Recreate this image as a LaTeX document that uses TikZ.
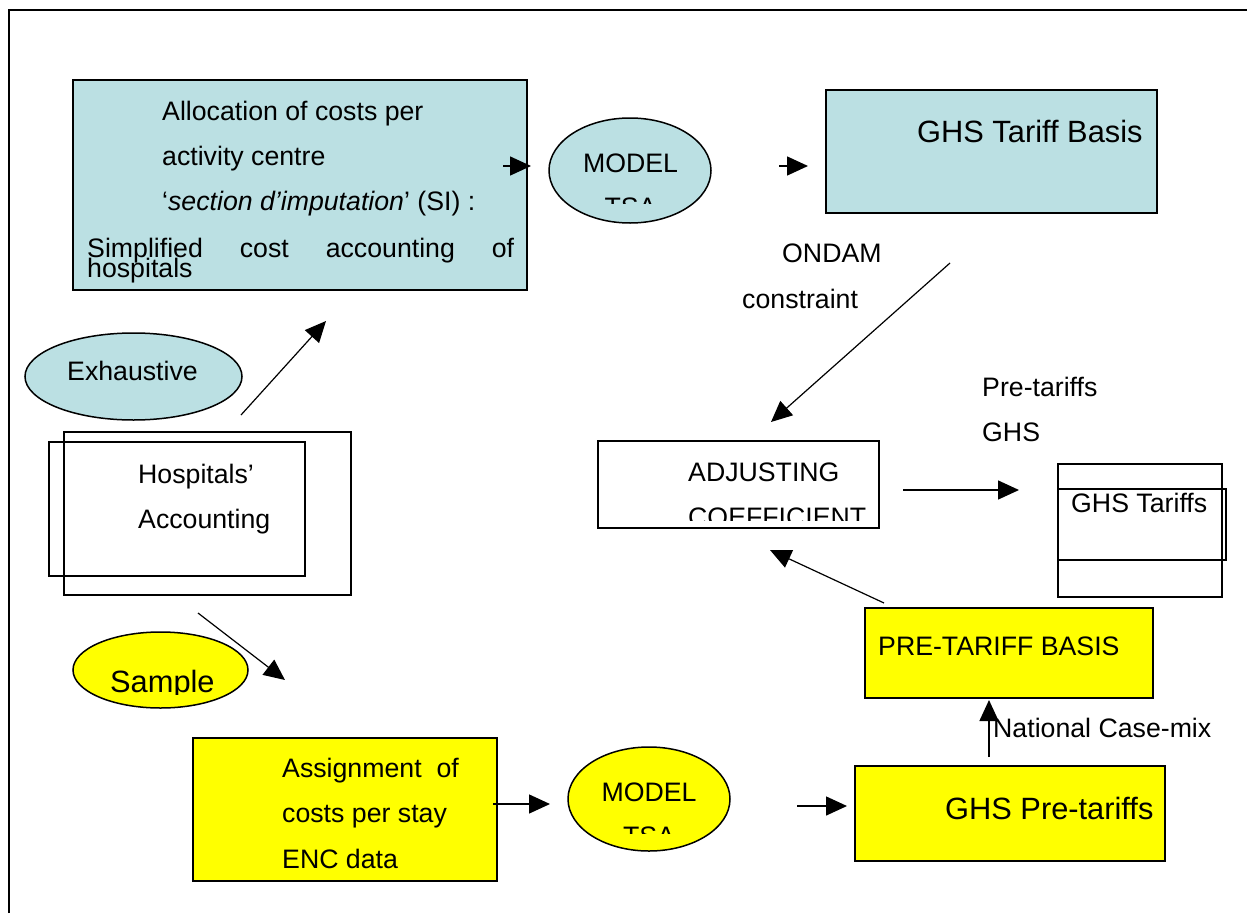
\documentclass[tikz,border=0pt]{standalone}
\usepackage{fontspec}
\setmainfont{Liberation Sans}
\usetikzlibrary{arrows.meta,shapes.geometric}
\definecolor{paleblue}{RGB}{187,224,227}
\definecolor{brightyellow}{RGB}{255,255,0}
\begin{document}
\begin{tikzpicture}[x=1pt,y=-1pt,
  boxshape/.style={draw, line width=1.5pt, inner sep=0pt, outer sep=0pt, anchor=north west},
  ellshape/.style={draw, ellipse, line width=1.5pt, inner sep=0pt, outer sep=0pt},
  txt/.style={anchor=base west, inner sep=0pt, font=\fontsize{26.7}{32}\selectfont},
  bigtxt/.style={anchor=base west, inner sep=0pt, font=\fontsize{30.8}{37}\selectfont},
  arr/.style={-{Triangle[length=21pt,width=19pt]}, line width=1.5pt},
  thinarr/.style={-{Triangle[length=21pt,width=19pt]}, line width=1.2pt}]
\useasboundingbox (0,0) rectangle (1247,913);
\draw[line width=2pt] (9,913) -- (9,10) -- (1247,10);

% ---- shapes ----
\node[boxshape, fill=paleblue, minimum width=454pt, minimum height=210pt] (alloc) at (73,80) {};
\node[ellshape, fill=paleblue, minimum width=162pt, minimum height=105pt] (model1) at (630,170.5) {};
\node[boxshape, fill=paleblue, minimum width=331pt, minimum height=123pt] (basis) at (826,90) {};
\node[ellshape, fill=paleblue, minimum width=217pt, minimum height=87pt] (exh) at (133.5,376.5) {};
\node[boxshape, minimum width=287pt, minimum height=163pt] (hospB) at (64,432) {};
\node[boxshape, minimum width=256pt, minimum height=134pt] (hospA) at (49,442) {};
\node[ellshape, fill=brightyellow, minimum width=175pt, minimum height=76pt] (sample) at (160.5,670) {};
\node[boxshape, fill=brightyellow, minimum width=304pt, minimum height=143pt] (assign) at (193,738) {};
\node[ellshape, fill=brightyellow, minimum width=162pt, minimum height=104pt] (model2) at (649,799) {};
\node[boxshape, fill=brightyellow, minimum width=310pt, minimum height=95pt] (pretar) at (855,766) {};
\node[boxshape, fill=brightyellow, minimum width=288pt, minimum height=90pt] (prebasis) at (865,608) {};
\node[boxshape, minimum width=281pt, minimum height=87pt] (adjust) at (598,441) {};
\node[boxshape, minimum width=164pt, minimum height=133pt] (tarOuter) at (1058,464) {};
\node[boxshape, minimum width=168pt, minimum height=71pt] (tarInner) at (1058,489) {};

% ---- texts ----
\node[txt] (t1) at (162,120) {Allocation of costs per};
\node[txt] (t2) at (162,165) {activity centre};
\node[txt] (t3) at (162,210) {`\textit{section d’imputation}’ (SI) :};
\node[txt] (t4) at (87,257) {\hbox to 427pt{Simplified\hfill cost\hfill accounting\hfill of}};
\node[txt] (t5) at (87,277) {hospitals};

\node[txt, anchor=base] (m1a) at (630.5,172) {MODEL};
\begin{scope}
  \clip (549,100) rectangle (711,203);
  \node[txt, anchor=base] (m1b) at (630.5,216) {TSA};
\end{scope}

\node[bigtxt] (tb) at (917,142) {GHS Tariff Basis};
\node[txt] (ond1) at (782,262) {ONDAM};
\node[txt] (ond2) at (742,308) {constraint};
\node[txt] (exhtxt) at (67,380) {Exhaustive};
\node[txt] (pt1) at (982,396) {Pre-tariffs};
\node[txt] (pt2) at (982,441) {GHS};
\node[txt] (h1) at (138,483) {Hospitals’};
\node[txt] (h2) at (138,528) {Accounting};

\node[txt] (adj1) at (688,481) {ADJUSTING};
\begin{scope}
  \clip (598,441) rectangle (879,520);
  \node[txt] (adj2) at (688,526) {COEFFICIENT};
\end{scope}
\node[txt] (ghst) at (1071,512) {GHS Tariffs};

\node[txt] (pbt) at (878,655) {PRE-TARIFF BASIS};
\node[txt] (nat) at (993,737) {National Case-mix};

\begin{scope}
  \clip (60,600) rectangle (260,694);
  \node[bigtxt] (samp) at (110,692) {Sample};
\end{scope}

\node[txt] (a1) at (282,777) {Assignment\ \ of};
\node[txt] (a2) at (282,822) {costs per stay};
\node[txt] (a3) at (282,868) {ENC data};

\node[txt, anchor=base] (m2a) at (649,801) {MODEL};
\begin{scope}
  \clip (568,760) rectangle (730,833);
  \node[txt, anchor=base] (m2b) at (649,845) {TSA};
\end{scope}
\node[bigtxt] (gpt) at (945,819) {GHS Pre-tariffs};

% ---- connectors ----
\coordinate (c1s) at (503,166); \coordinate (c1e) at (531,166);
\coordinate (c2s) at (779,166); \coordinate (c2e) at (808,166);
\coordinate (c3s) at (950,263); \coordinate (c3e) at (771,422);
\coordinate (c4s) at (903,490); \coordinate (c4e) at (1019,490);
\coordinate (c5s) at (884,603); \coordinate (c5e) at (770,550);
\coordinate (c6s) at (989,757); \coordinate (c6e) at (989,700);
\coordinate (c7s) at (797,806); \coordinate (c7e) at (847,806);
\coordinate (c8s) at (493,804); \coordinate (c8e) at (550,804);
\coordinate (c9s) at (241,415); \coordinate (c9e) at (326,321);
\coordinate (c10s) at (198,613); \coordinate (c10e) at (285,680);

\draw[arr] (c1s) -- (c1e);
\draw[arr] (c2s) -- (c2e);
\draw[thinarr] (c3s) -- (c3e);
\draw[arr] (c4s) -- (c4e);
\draw[thinarr] (c5s) -- (c5e);
\draw[arr] (c6s) -- (c6e);
\draw[arr] (c7s) -- (c7e);
\draw[arr] (c8s) -- (c8e);
\draw[thinarr] (c9s) -- (c9e);
\draw[thinarr] (c10s) -- (c10e);
\end{tikzpicture}
\end{document}
